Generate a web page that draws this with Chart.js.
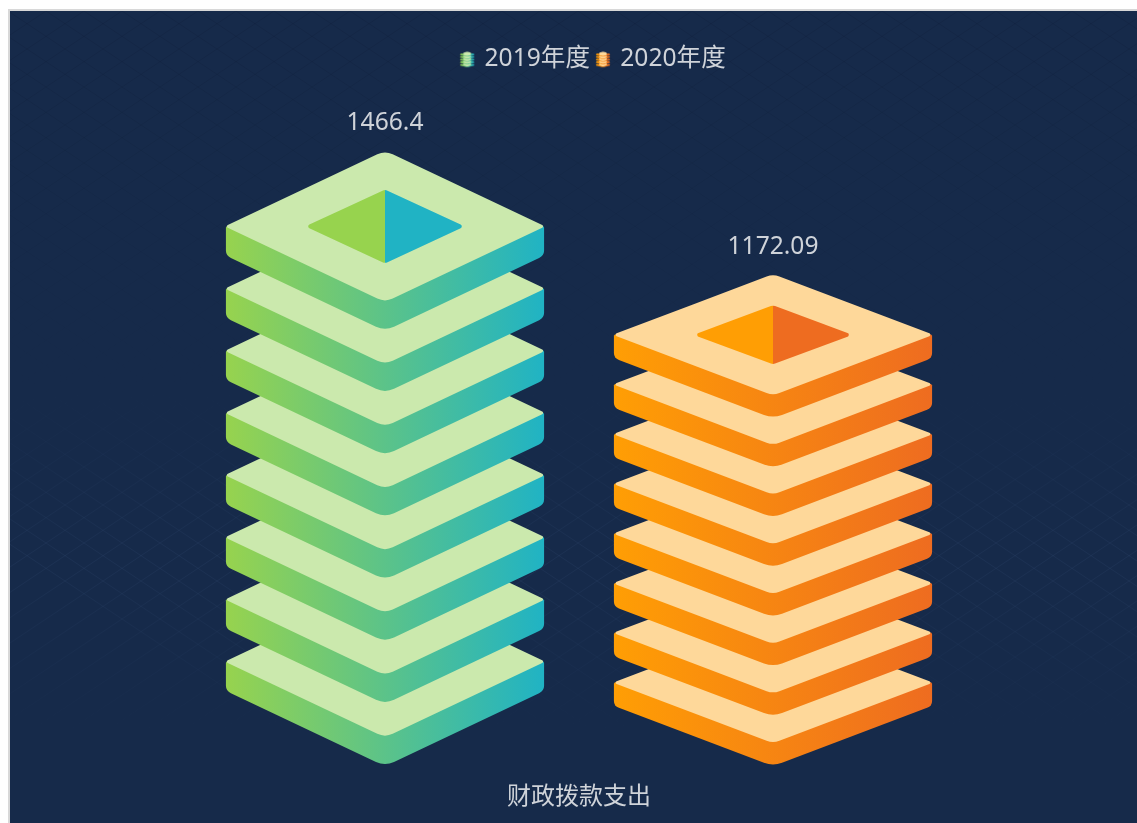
<!DOCTYPE html>
<html>
<head>
<meta charset="utf-8">
<style>
  html, body { margin: 0; padding: 0; background: #fff; overflow: hidden; }
  #box { position: absolute; left: 8px; top: 9px; border-left: 2px solid #d8d8d8; border-top: 2px solid #d8d8d8; }
  canvas { display: block; }
</style>
</head>
<body>
<div id="box"><canvas id="chart" width="1127" height="818"></canvas></div>
<script src="https://cdn.jsdelivr.net/npm/chart.js@4/dist/chart.umd.min.js"></script>
<script>
const categories = ['财政拨款支出'];
const seriesNames = ['2019年度', '2020年度'];
const values2019 = [1466.4];
const values2020 = [1172.09];
const plateCount = 8;
const yMax = 1632;

const labelColor = '#cfd3d9';
const fontFamily = '"Noto Sans", "Noto Sans CJK SC", sans-serif';
const palette = [
  {face: '#cbe9ad', from: '#97d34e', to: '#20b3c4'},
  {face: '#fed89a', from: '#ff9e04', to: '#ee6c20'}
];

// polygon with rounded corners, radii[i] = radius at pts[i]
function roundPoly(ctx, pts, radii) {
  const n = pts.length;
  const last = pts[n - 1], first = pts[0];
  ctx.beginPath();
  ctx.moveTo((last[0] + first[0]) / 2, (last[1] + first[1]) / 2);
  for (let i = 0; i < n; i++) {
    const p = pts[i], next = pts[(i + 1) % n];
    ctx.arcTo(p[0], p[1], next[0], next[1], radii[i]);
  }
  ctx.closePath();
}

function diamond(ctx, x, y, w, h, rV, rS) {
  roundPoly(ctx, [[x, y - h], [x + w, y], [x, y + h], [x - w, y]], [rV, rS, rV, rS]);
}

function drawPlate(ctx, x, cy, w, h, t, face, side, rV, rS) {
  const k = h / w;
  ctx.beginPath();
  ctx.moveTo(x - w + 1, cy - k);
  ctx.lineTo(x - w, cy + 1);
  ctx.lineTo(x - w, cy + t - rS);
  ctx.quadraticCurveTo(x - w, cy + t, x - w + rS, cy + t + rS * k);
  ctx.lineTo(x - rV, cy + t + h - rV * k);
  ctx.quadraticCurveTo(x, cy + t + h, x + rV, cy + t + h - rV * k);
  ctx.lineTo(x + w - rS, cy + t + rS * k);
  ctx.quadraticCurveTo(x + w, cy + t, x + w, cy + t - rS);
  ctx.lineTo(x + w, cy + 1);
  ctx.lineTo(x + w - 1, cy - k);
  ctx.closePath();
  ctx.fillStyle = side;
  ctx.fill();
  diamond(ctx, x, cy, w + 1, h + k, rV * 2, 1.5);
  ctx.fillStyle = face;
  ctx.fill();
}

function legendIcon(c) {
  const cv = document.createElement('canvas');
  cv.width = 16;
  cv.height = 18;
  const g = cv.getContext('2d');
  const side = g.createLinearGradient(1, 0, 15, 0);
  side.addColorStop(0, c.from);
  side.addColorStop(1, c.to);
  for (let i = 4; i >= 0; i--) {
    drawPlate(g, 8, 3.5 + i * 2.6, 7.3, 1.9, 1.1, c.face, side, 1, 0.5);
  }
  return cv;
}

const stackPlugin = {
  id: 'stack',
  beforeDraw(chart) {
    const ctx = chart.ctx, W = chart.width, H = chart.height;
    ctx.save();
    ctx.fillStyle = '#162a4a';
    ctx.fillRect(0, 0, W, H);
    // faint hatch behind the chart
    const dark = ctx.createLinearGradient(0, 0, 0, 400);
    dark.addColorStop(0, 'rgba(10,24,50,0.22)');
    dark.addColorStop(1, 'rgba(10,24,50,0)');
    const light = ctx.createLinearGradient(0, 380, 0, 720);
    light.addColorStop(0, 'rgba(50,75,115,0)');
    light.addColorStop(0.5, 'rgba(50,75,115,0.22)');
    light.addColorStop(1, 'rgba(50,75,115,0)');
    [dark, light].forEach(stroke => {
      ctx.strokeStyle = stroke;
      ctx.lineWidth = 1;
      ctx.beginPath();
      for (let c = -800; c < W + 1400; c += 38) {
        ctx.moveTo(c, 0);
        ctx.lineTo(c + H * 1.5, H);
        ctx.moveTo(c, 0);
        ctx.lineTo(c - H * 1.5, H);
      }
      ctx.stroke();
    });
    ctx.restore();
  },
  afterLayout(chart) {
    // legend sits a little right of the bars' centre
    chart.legend.left += 15;
    chart.legend.right += 15;
  },
  afterDatasetsDraw(chart) {
    const ctx = chart.ctx;
    chart.data.datasets.forEach((ds, di) => {
      const c = palette[di];
      chart.getDatasetMeta(di).data.forEach((bar, i) => {
        const p = bar.getProps(['x', 'y', 'base', 'width'], true);
        const total = p.base - p.y;
        const w = p.width / 2;
        const h = total * 0.1225;
        const t = total * 0.0474;
        const step = (total - 2 * h - t) / (plateCount - 1);
        const side = ctx.createLinearGradient(p.x - w, 0, p.x + w, 0);
        side.addColorStop(0, c.from);
        side.addColorStop(1, c.to);
        for (let k = plateCount - 1; k >= 0; k--) {
          drawPlate(ctx, p.x, p.y + h + k * step, w, h, t, c.face, side, 9, 5);
        }
        // hole on the top plate
        const cy = p.y + h;
        ctx.save();
        diamond(ctx, p.x, cy, w * 0.5, h * 0.49, 6, 2);
        ctx.clip();
        ctx.fillStyle = c.from;
        ctx.fillRect(p.x - w, cy - h, w, 2 * h);
        ctx.fillStyle = c.to;
        ctx.fillRect(p.x, cy - h, w, 2 * h);
        ctx.restore();
        ctx.fillStyle = labelColor;
        ctx.font = '24.6px ' + fontFamily;
        ctx.textAlign = 'center';
        ctx.textBaseline = 'middle';
        ctx.fillText(String(ds.data[i]), p.x, p.y - 28);
      });
    });
  }
};

new Chart(document.getElementById('chart'), {
  type: 'bar',
  data: {
    labels: categories,
    datasets: [
      {label: seriesNames[0], data: values2019, backgroundColor: 'transparent'},
      {label: seriesNames[1], data: values2020, backgroundColor: 'transparent'}
    ]
  },
  plugins: [stackPlugin],
  options: {
    responsive: false,
    animation: false,
    layout: {padding: {left: 181, right: 170, top: 28, bottom: 0}},
    font: {family: fontFamily},
    datasets: {bar: {categoryPercentage: 1, barPercentage: 0.82}},
    plugins: {
      tooltip: {enabled: false},
      legend: {
        position: 'top',
        labels: {
          color: labelColor,
          font: {size: 24.6, family: fontFamily},
          usePointStyle: true,
          boxWidth: 10,
          padding: 8,
          generateLabels(chart) {
            const items = Chart.defaults.plugins.legend.labels.generateLabels(chart);
            items.forEach((it, i) => { it.pointStyle = legendIcon(palette[i]); });
            return items;
          }
        }
      }
    },
    scales: {
      x: {
        grid: {display: false, drawTicks: false},
        border: {display: false},
        ticks: {color: labelColor, padding: 17, font: {size: 24, family: fontFamily}}
      },
      y: {display: false, min: 0, max: yMax}
    }
  }
});
</script>
</body>
</html>
